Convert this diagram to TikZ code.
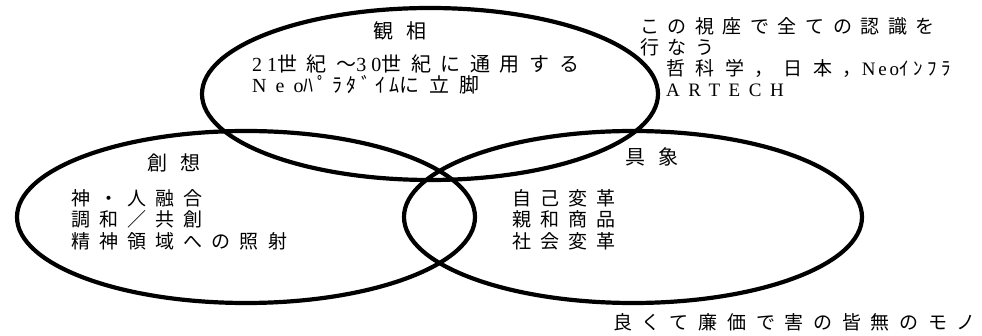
\documentclass[tikz,border=0pt]{standalone}
\usepackage{fontspec}
\setmainfont{Liberation Serif}
\newfontfamily\jpf{Noto Sans CJK JP}
\newcommand\jls[2]{{\jpf\addfontfeature{LetterSpace=#1}#2}}
\newcommand\lls[2]{{\addfontfeature{LetterSpace=#1}#2}}
\begin{document}
\begin{tikzpicture}[x=1pt,y=-1pt,
  ell/.style={line width=4.2pt, draw=black},
  txt/.style={inner sep=0pt, anchor=base west, text=black},
  big/.style={font=\fontsize{20}{20}\selectfont},
  mid/.style={font=\fontsize{19}{19}\selectfont},
  ttl/.style={font=\fontsize{20}{20}\selectfont}]
\fill[white] (0,0) rectangle (982,336);
\useasboundingbox (0,0) rectangle (982,336);
% ellipses
\draw[ell] (430,94) ellipse [x radius=228pt, y radius=86pt];
\draw[ell] (246,217) ellipse [x radius=229pt, y radius=86pt];
\draw[ell] (633,217) ellipse [x radius=229pt, y radius=86pt];
% top ellipse
\node[txt,ttl] (kanso) at (373,38.5) {\jls{65}{観相}};
\node[txt,big] (k1) at (252,71.5) {\lls{25}{21}\jls{48}{世紀～}\lls{25}{30}\jls{48}{世紀に通用する}};
\node[txt,big] (k2) at (252,92.5) {\lls{45}{Neo}\jls{22}{ﾊﾟﾗﾀﾞｲﾑ}\jls{48}{に立脚}};
% right column
\node[txt,mid] (r1) at (640,34) {\jls{45}{この視座で全ての認識を}};
\node[txt,mid] (r2) at (640,55) {\jls{45}{行なう}};
\node[txt,mid] (r3) at (666,76) {\jls{55}{哲科学，日本，}\lls{15}{Neo}\jls{25}{ｲﾝﾌﾗ}};
\node[txt,mid] (r4) at (666,96.5) {\lls{45}{ARTECH}};
% left ellipse
\node[txt,ttl] (soso) at (147,170.5) {\jls{65}{創想}};
\node[txt,mid] (s1) at (71,206) {\jls{48}{神・人融合}};
\node[txt,mid] (s2) at (71,227) {\jls{48}{調和／共創}};
\node[txt,mid] (s3) at (71,249) {\jls{48}{精神領域への照射}};
% right ellipse
\node[txt,ttl] (gusho) at (625,164.5) {\jls{65}{具象}};
\node[txt,mid] (g1) at (512,206) {\jls{48}{自己変革}};
\node[txt,mid] (g2) at (512,227) {\jls{48}{親和商品}};
\node[txt,mid] (g3) at (512,249) {\jls{48}{社会変革}};
% bottom
\node[txt,mid] (bottom) at (613,330) {\jls{51}{良くて廉価で害の皆無のモノ}};
\end{tikzpicture}
\end{document}
